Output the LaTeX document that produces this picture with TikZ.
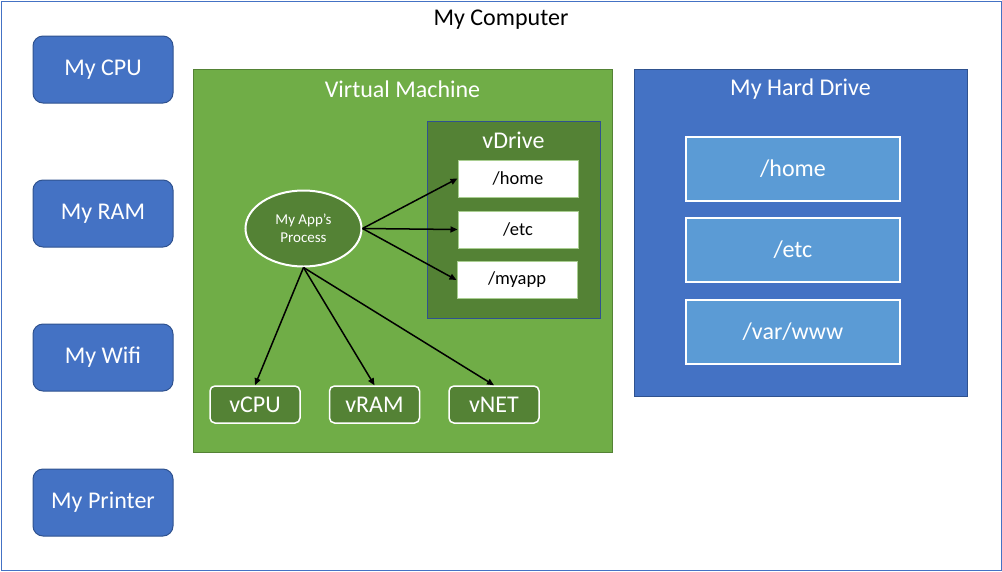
\documentclass[tikz,border=0pt]{standalone}
\usepackage{fontspec}
\setmainfont{Carlito}
\usetikzlibrary{arrows.meta, positioning, calc, shapes.geometric}
\definecolor{cBlueFill}{RGB}{68,114,196}
\definecolor{cBlueLine}{RGB}{47,82,143}
\definecolor{cBlueLight}{RGB}{91,155,213}
\definecolor{cGreenFill}{RGB}{112,173,71}
\definecolor{cGreenDark}{RGB}{84,130,53}

\tikzset{
  hwbox/.style={draw=cBlueLine, fill=cBlueFill, rounded corners=10pt, line width=1pt,
    minimum width=140pt, minimum height=67pt, text=white, font=\fontsize{24}{29}\selectfont},
  hddir/.style={draw=white, fill=cBlueLight, line width=2pt,
    minimum width=214pt, minimum height=64pt, text=white, font=\fontsize{24}{29}\selectfont},
  vdir/.style={draw=cGreenFill!60!white, fill=white, line width=1pt,
    minimum width=120pt, minimum height=37pt, font=\fontsize{18.5}{22}\selectfont},
  vdev/.style={draw=white, fill=cGreenDark, rounded corners=5pt, line width=1.5pt,
    minimum width=90pt, minimum height=37pt, text=white, font=\fontsize{24}{29}\selectfont},
  title/.style={text=white, font=\fontsize{24}{29}\selectfont},
  link/.style={-{Triangle[length=7pt,width=6pt]}, line width=1.5pt}
}

\begin{document}
\begin{tikzpicture}[x=1pt, y=-1pt]
  \useasboundingbox (0,0) rectangle (1002,571);
  \draw[cBlueFill, line width=1pt] (1,1) rectangle (1001,570);
  \node[font=\fontsize{24}{29}\selectfont] (computer) at (501,20) {My Computer};

  % host hardware
  \node[hwbox] (cpu) at (103,69.5) {My CPU};
  \node[hwbox] (ram) at (103,213.5) {My RAM};
  \node[hwbox] (wifi) at (103,357.5) {My Wifi};
  \node[hwbox] (printer) at (103,502.5) {My Printer};

  % virtual machine
  \draw[cGreenDark, fill=cGreenFill, line width=1pt] (193,69) rectangle (612,452);
  \node[title] (vm) at (402.5,89) {Virtual Machine};

  \draw[cBlueLine, fill=cGreenDark, line width=1pt] (427,121) rectangle (600,318);
  \node[title] (vdrive) at (513.5,140) {vDrive};
  \node[vdir] (vhome) at (518,178.5) {/home};
  \node[vdir] (vetc) at (518,229.5) {/etc};
  \node[vdir] (vmyapp) at (517,280) {/myapp};

  \node[ellipse, draw=white, fill=cGreenDark, line width=2pt, minimum width=116pt,
    minimum height=76pt, text=white, align=center, font=\fontsize{15}{18}\selectfont]
    (proc) at (303.5,228.5) {My App’s\\Process};

  \node[vdev] (vcpu) at (255,404.5) {vCPU};
  \node[vdev] (vram) at (374.5,404.5) {vRAM};
  \node[vdev] (vnet) at (494,404.5) {vNET};

  \draw[link] (proc.east) -- (vhome.west);
  \draw[link] (proc.east) -- (vetc.west);
  \draw[link] (proc.east) -- (vmyapp.west);
  \draw[link] (proc.south) -- (vcpu.north);
  \draw[link] (proc.south) -- (vram.north);
  \draw[link] (proc.south) -- (vnet.north);

  % host disk
  \draw[cBlueLine, fill=cBlueFill, line width=1pt] (634,69) rectangle (967,396);
  \node[title] (hdd) at (800.5,89) {My Hard Drive};
  \node[hddir] (home) at (793,169) {/home};
  \node[hddir] (etc) at (793,250) {/etc};
  \node[hddir] (www) at (793,332) {/var/www};
\end{tikzpicture}
\end{document}
